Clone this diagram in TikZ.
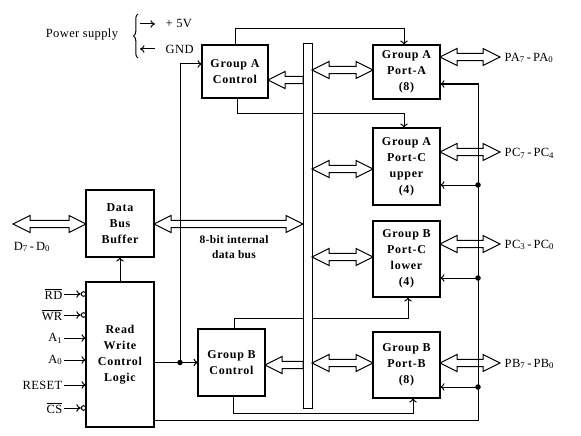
\documentclass[tikz,border=0pt]{standalone}
\usepackage{fontspec}
\setmainfont{Liberation Serif}
\newfontfamily\boxfont[LetterSpace=6]{Liberation Serif}
\newfontfamily\lblfont[LetterSpace=3]{Liberation Serif}
\usetikzlibrary{arrows.meta,calc,decorations.pathreplacing}
\newcommand\ovl[1]{$\overline{\hbox{#1}}$}
\newcommand\hdbl[3]{%
  \draw[hollow] let \p1=#1, \p2=#2, \p3=(0,#3) in
    (\x1,\y3) -- (\x1+17pt,\y3+8.5pt) -- (\x1+17pt,\y3+3.7pt) -- (\x2-17pt,\y3+3.7pt)
    -- (\x2-17pt,\y3+8.5pt) -- (\x2,\y3) -- (\x2-17pt,\y3-8.5pt) -- (\x2-17pt,\y3-3.7pt)
    -- (\x1+17pt,\y3-3.7pt) -- (\x1+17pt,\y3-8.5pt) -- cycle;}
\newcommand\hsgl[3]{%
  \draw[hollow] let \p1=#1, \p2=#2, \p3=(0,#3) in
    (\x1,\y3) -- (\x1+17pt,\y3+8.5pt) -- (\x1+17pt,\y3+3.7pt) -- (\x2,\y3+3.7pt)
    -- (\x2,\y3-3.7pt) -- (\x1+17pt,\y3-3.7pt) -- (\x1+17pt,\y3-8.5pt) -- cycle;}
\tikzset{
  blk/.style={draw,line width=1.6pt,fill=white,inner sep=0pt,outer sep=0pt,
    align=center,font=\boxfont\bfseries\fontsize{12}{16}\selectfont},
  wire/.style={line width=1pt},
  arr/.style={wire,-{To[length=4.5pt,width=7.5pt]}},
  hollow/.style={line width=1pt,line join=miter},
  lbl/.style={font=\lblfont\fontsize{12.5}{15}\selectfont,inner sep=1.5pt},
  dot/.style={circle,fill,inner sep=0pt,minimum size=5.5pt},
  bub/.style={circle,draw,line width=1pt,inner sep=0pt,minimum size=4.6pt}
}
\begin{document}
\begin{tikzpicture}[x=1pt,y=-1pt]
\useasboundingbox (0,0) rectangle (581,436);
% blocks
\node[blk,minimum width=66pt,minimum height=53pt] (gac) at (235,71.5) {Group A\\Control};
\node[blk,minimum width=67pt,minimum height=54pt] (pa) at (406.5,72) {Group A\\Port-A\\(8)};
\node[blk,minimum width=67pt,minimum height=77pt] (pcu) at (406.5,166.5) {Group A\\Port-C\\upper\\(4)};
\node[blk,minimum width=67pt,minimum height=76pt] (pcl) at (406.5,259) {Group B\\Port-C\\lower\\(4)};
\node[blk,minimum width=67pt,minimum height=66pt] (pb) at (406.5,365) {Group B\\Port-B\\(8)};
\node[blk,minimum width=68pt,minimum height=67pt] (dbb) at (120,223.5) {Data\\Bus\\Buffer};
\node[blk,minimum width=68pt,minimum height=145pt] (rw) at (120,354.5) {Read\\Write\\Control\\Logic};
\node[blk,minimum width=67pt,minimum height=67pt] (gbc) at (231.5,362.5) {Group B\\Control};
% control wires
\draw[arr] (gac.north) -- ++(0,-16) -| ([xshift=-2.5pt]pa.north);
\draw[arr] ([xshift=2pt]gac.south) -- ++(0,15) -| ([xshift=-2.5pt]pcu.north);
\draw[arr] ([xshift=2.5pt]gbc.north) -- ++(0,-11) -| ([xshift=1.5pt]pcl.south);
\draw[arr] ([xshift=1.5pt]gbc.south) -- ++(0,17) -| ([xshift=6.5pt]pb.south);
\draw[arr] (rw.north) -- (dbb.south);
\coordinate (j1) at (180,362.5);
\draw[arr] (rw.east |- gbc.west) -- (gbc.west);
\draw[arr] (j1) |- ([yshift=7.5pt]gac.west);
\node[dot] at (j1) {};
\coordinate (rb) at (478,420);
\coordinate (rt) at (478,84);
\draw[arr] ([yshift=-65.5pt]rw.east) -- (rb) -- (rt) -- ([yshift=-12pt]pa.east);
\coordinate (d1) at (478,185);
\coordinate (d2) at (478,278);
\coordinate (d3) at (478,387);
\draw[arr] (d1) -- (d1 -| pcu.east);
\draw[arr] (d2) -- (d2 -| pcl.east);
\draw[arr] (d3) -- (d3 -| pb.east);
\foreach \d in {d1,d2,d3} \node[dot] at (\d) {};
% internal bus bar
\node[draw,line width=1pt,fill=white,minimum width=9pt,minimum height=364pt,inner sep=0pt,outer sep=0pt] (bus) at (307.5,226) {};
% hollow bus arrows
\hsgl{(gac.east)}{(bus.west)}{80}
\hdbl{(bus.east)}{(pa.west)}{70}
\hdbl{(bus.east)}{(pcu.west)}{169}
\hdbl{(bus.east)}{(pcl.west)}{257}
\hsgl{(gbc.east)}{(bus.west)}{365}
\hdbl{(bus.east)}{(pb.west)}{363}
\hdbl{(dbb.east)}{(bus.west)}{224}
\coordinate (dL) at (13,224);
\hdbl{(dL)}{(dbb.west)}{224}
% external port arrows
\coordinate (ePA) at (500,57);
\coordinate (ePCu) at (500,152);
\coordinate (ePCl) at (500,244);
\coordinate (ePB) at (500,363);
\hdbl{(pa.east)}{(ePA)}{57}
\hdbl{(pcu.east)}{(ePCu)}{152}
\hdbl{(pcl.east)}{(ePCl)}{244}
\hdbl{(pb.east)}{(ePB)}{363}
\node[lbl,anchor=west] (tPA) at (503,58) {PA\textsubscript{7}\,-\,PA\textsubscript{0}};
\node[lbl,anchor=west] (tPCu) at (503,153) {PC\textsubscript{7}\,-\,PC\textsubscript{4}};
\node[lbl,anchor=west] (tPCl) at (503,245) {PC\textsubscript{3}\,-\,PC\textsubscript{0}};
\node[lbl,anchor=west] (tPB) at (503,364) {PB\textsubscript{7}\,-\,PB\textsubscript{0}};
\node[lbl] (tD) at (32,247) {D\textsubscript{7}\,-\,D\textsubscript{0}};
\node[lbl,align=center,font=\lblfont\bfseries\fontsize{11.5}{14.5}\selectfont] (tbus) at (234,247) {8-bit internal\\data bus};
% inputs to read/write logic
\node[lbl,anchor=east] (lrd) at (64,294) {\ovl{RD}};
\node[lbl,anchor=east] (lwr) at (64,315) {\ovl{WR}};
\node[lbl,anchor=east] (la1) at (64,338) {A\textsubscript{1}};
\node[lbl,anchor=east] (la0) at (64,360) {A\textsubscript{0}};
\node[lbl,anchor=east] (lrs) at (64,385) {RESET};
\node[lbl,anchor=east] (lcs) at (64,408) {\ovl{CS}};
\node[bub] (brd) at (83.6,294) {};
\node[bub] (bwr) at (83.6,315) {};
\node[bub] (bcs) at (83.6,408) {};
\draw[arr] (lrd.east) -- (brd.west);
\draw[arr] (lwr.east) -- (bwr.west);
\draw[arr] (lcs.east) -- (bcs.west);
\draw[arr] (la1.east) -- (la1.east -| rw.west);
\draw[arr] (la0.east) -- (la0.east -| rw.west);
\draw[arr] (lrs.east) -- (lrs.east -| rw.west);
% power supply
\node[lbl] (tps) at (82,35) {Power supply};
\draw[wire,decorate,decoration={brace,amplitude=4.5pt}] (138,58) -- (138,14);
\coordinate (p1a) at (140,24);
\node[lbl,anchor=west] (t5v) at (164,24) {+ 5V};
\draw[arr] (p1a) -- (155,24);
\node[lbl,anchor=west] (tgnd) at (164,49) {GND};
\coordinate (p2a) at (140,49);
\draw[arr] (155,49) -- (p2a);
\end{tikzpicture}
\end{document}
